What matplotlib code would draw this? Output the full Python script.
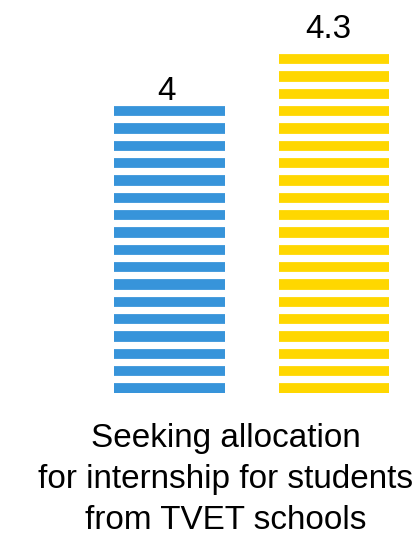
import matplotlib
matplotlib.use("Agg")
import matplotlib.pyplot as plt
import numpy as np

series = ["Series A", "Series B"]
values = [4.0, 4.3]
value_labels = ["4", "4.3"]
category = "Seeking allocation\nfor internship for students\nfrom TVET schools"
colors = ["#3794DA", "#FFD700"]

DPI = 104
W, H = 416, 536
plt.rcParams["font.family"] = ["Liberation Sans", "DejaVu Sans"]

fig = plt.figure(figsize=(W / DPI, H / DPI), dpi=DPI)
ax_bottom_px = 393
ax = fig.add_axes([0, (H - ax_bottom_px) / H, 1, ax_bottom_px / H])

px_per_unit_x = 164.5
x0_px = 169.5
ax.set_xlim(-x0_px / px_per_unit_x, (W - x0_px) / px_per_unit_x)
px_per_unit_y = 176.7
base = 4.0 - 288 / px_per_unit_y
ax.set_ylim(base, base + ax_bottom_px / px_per_unit_y)

xs = np.arange(len(values))
bars = ax.bar(xs, [v - base for v in values], bottom=base, width=0.672,
              color=colors, linewidth=0, zorder=2)

# horizontal white stripes (pattern fill), clipped to each bar
period_px = DPI / 6.0
gap_px = 7.2
first_gap_center_px = 10.2 + gap_px / 2
gap_centers = base + (first_gap_center_px + period_px * np.arange(40)) / px_per_unit_y
for rect in bars:
    lc = ax.hlines(gap_centers, -1, 2, colors="white",
                   linewidth=gap_px * 72 / DPI, zorder=3)
    lc.set_clip_path(rect)

label_offsets = [(-2, -1.5), (-4, 5)]
for x, v, lab, off in zip(xs, values, value_labels, label_offsets):
    ax.annotate(lab, (x, v), xytext=off, textcoords="offset points",
                ha="center", va="bottom", fontsize=23, color="black", zorder=4)
ax.axis("off")

fig.text(226 / W, 1 - 423 / H, category, ha="center", va="top",
         fontsize=23, linespacing=1.42, color="black")

fig.savefig("out.png", dpi=DPI)
